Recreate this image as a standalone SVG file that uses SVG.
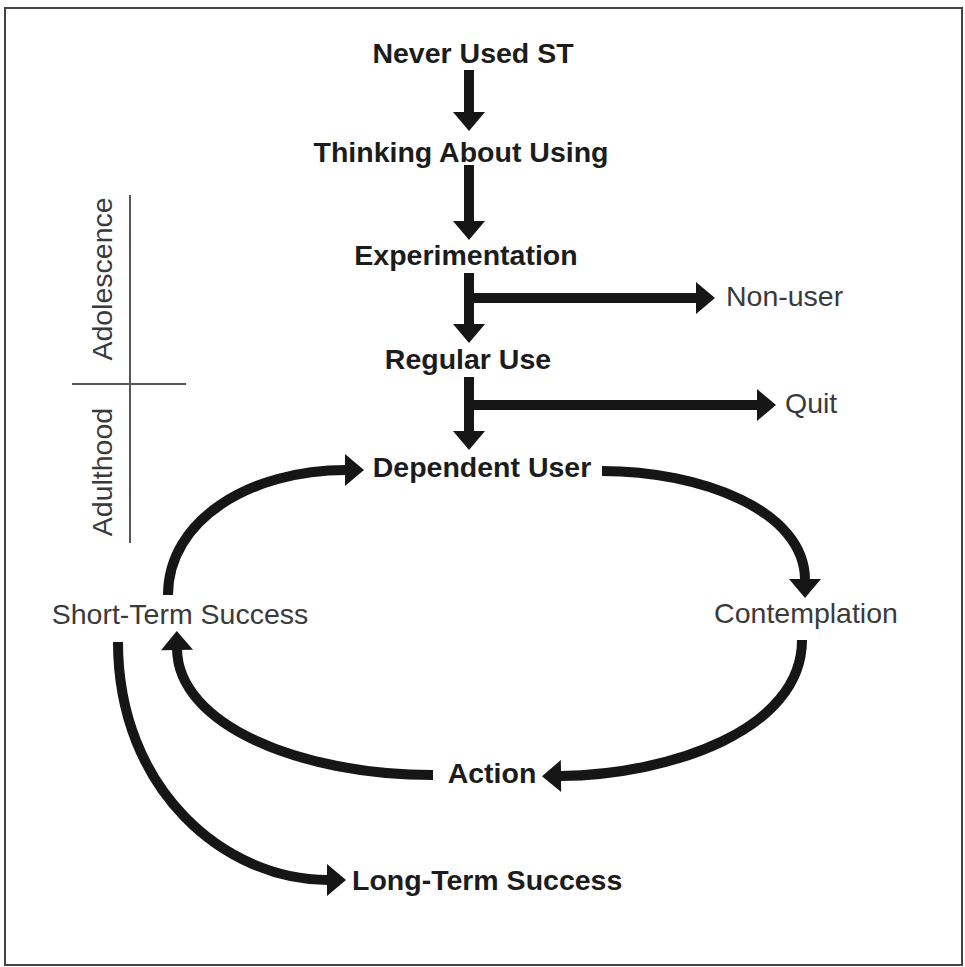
<svg xmlns="http://www.w3.org/2000/svg" width="965" height="967" viewBox="0 0 965 967">
<style>
.b{font-family:"Liberation Sans",Arial,sans-serif;font-size:28.5px;font-weight:bold;fill:#1c1c1c}
.r{font-family:"Liberation Sans",Arial,sans-serif;font-size:28.5px;fill:#3a3a3a}
.c{fill:none;stroke:#161616;stroke-width:10}
.g{stroke:#555;stroke-width:2;fill:none}
</style>
<defs>
<marker id="ah" markerUnits="userSpaceOnUse" markerWidth="20" markerHeight="34" refX="0" refY="16" orient="auto" overflow="visible">
<path d="M-1,0 L18,16 L-1,32 z" fill="#161616"/>
</marker>
</defs>
<rect x="5" y="8" width="957" height="957" fill="#fff" stroke="#444" stroke-width="2"/>
<g id="stages">
<line class="g" x1="130" y1="195" x2="130" y2="543"/>
<line class="g" x1="72" y1="384" x2="186" y2="384"/>
<text class="r" transform="translate(112,279) rotate(-90)" text-anchor="middle">Adolescence</text>
<text class="r" transform="translate(112,472) rotate(-90)" text-anchor="middle">Adulthood</text>
</g>
<g id="connectors">
<path class="c" d="M469,70 V113" marker-end="url(#ah)"/>
<path class="c" d="M469,165 V222" marker-end="url(#ah)"/>
<path class="c" d="M469,273 V325" marker-end="url(#ah)"/>
<path class="c" d="M469,298 H697" marker-end="url(#ah)"/>
<path class="c" d="M469,377 V432" marker-end="url(#ah)"/>
<path class="c" d="M469,405 H758" marker-end="url(#ah)"/>
<path class="c" d="M602,471 C700,471 805,510 805,580" marker-end="url(#ah)"/>
<path class="c" d="M802,640 C802,730 670,775 560,776" marker-end="url(#ah)"/>
<path class="c" d="M433,775 C300,775 178,725 177,649" marker-end="url(#ah)"/>
<path class="c" d="M168,595 C168,520 250,470 346,470" marker-end="url(#ah)"/>
<path class="c" d="M118,642 C118,790 225,880 328,880" marker-end="url(#ah)"/>
</g>
<g id="n-never"><text class="b" x="473" y="63" text-anchor="middle">Never Used ST</text></g>
<g id="n-thinking"><text class="b" x="461" y="162" text-anchor="middle">Thinking About Using</text></g>
<g id="n-experimentation"><text class="b" x="466" y="265" text-anchor="middle">Experimentation</text></g>
<g id="n-nonuser"><text class="r" x="726" y="306">Non-user</text></g>
<g id="n-regular"><text class="b" x="468" y="369" text-anchor="middle">Regular Use</text></g>
<g id="n-quit"><text class="r" x="785" y="413">Quit</text></g>
<g id="n-dependent"><text class="b" x="482" y="477" text-anchor="middle">Dependent User</text></g>
<g id="n-shortterm"><text class="r" x="180" y="624" text-anchor="middle">Short-Term Success</text></g>
<g id="n-contemplation"><text class="r" x="806" y="623" text-anchor="middle">Contemplation</text></g>
<g id="n-action"><text class="b" x="492" y="783" text-anchor="middle">Action</text></g>
<g id="n-longterm"><text class="b" x="352" y="890">Long-Term Success</text></g>
</svg>
